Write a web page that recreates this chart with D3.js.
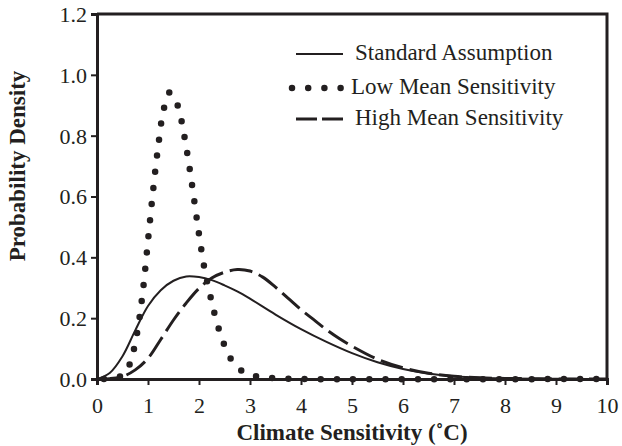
<!DOCTYPE html>
<html>
<head>
<meta charset="utf-8">
<script src="https://cdn.jsdelivr.net/npm/d3@7"></script>
<style>
  body { margin: 0; background: #fff; }
  svg { font-family: "Liberation Serif", "Times New Roman", serif; }
  .tick text { font-size: 22px; fill: #231f20; }
  .tick line, .domain { stroke: #231f20; }
</style>
</head>
<body>
<script>
const WIDTH = 622;
const HEIGHT = 446;
const LEFT = 97, RIGHT = 607, TOP = 14, BOTTOM = 379;

// Standard Assumption (solid)
var stdX = [0, 0.25, 0.5, 0.75, 1.0, 1.25, 1.5, 1.75, 2.0, 2.25, 2.5, 2.75, 3.0, 3.5, 4.0, 4.5, 5.0, 5.5, 6.0, 6.5, 7.0, 7.5, 8.0, 9.0, 10.0];
var stdY = [0, 0.02, 0.075, 0.16, 0.24, 0.292, 0.323, 0.337, 0.335, 0.325, 0.308, 0.288, 0.264, 0.212, 0.164, 0.122, 0.085, 0.055, 0.033, 0.018, 0.009, 0.004, 0.002, 0.0005, 0];

// Low Mean Sensitivity (dotted)
var lowX = [0, 0.3, 0.5, 0.6, 0.7, 0.8, 0.9, 1.0, 1.1, 1.2, 1.3, 1.42, 1.5, 1.6, 1.7, 1.8, 1.9, 2.0, 2.1, 2.2, 2.3, 2.4, 2.5, 2.6, 2.7, 2.85, 3.0, 3.3, 3.6, 4.0, 10.0];
var lowY = [0, 0.002, 0.012, 0.033, 0.082, 0.165, 0.29, 0.455, 0.62, 0.765, 0.88, 0.942, 0.93, 0.89, 0.81, 0.71, 0.595, 0.476, 0.37, 0.29, 0.218, 0.158, 0.11, 0.073, 0.048, 0.025, 0.013, 0.005, 0.002, 0, 0];
var lowPeak = 11; // index of the top dot

// High Mean Sensitivity (dashed)
var highX = [0, 0.25, 0.5, 0.75, 1.0, 1.25, 1.5, 1.75, 2.0, 2.25, 2.5, 2.75, 3.0, 3.25, 3.5, 3.75, 4.0, 4.25, 4.5, 4.75, 5.0, 5.5, 6.0, 6.5, 7.0, 7.5, 8.0, 9.0, 10.0];
var highY = [0, 0.001, 0.008, 0.03, 0.068, 0.13, 0.194, 0.25, 0.298, 0.332, 0.351, 0.36, 0.355, 0.335, 0.302, 0.265, 0.228, 0.195, 0.162, 0.133, 0.108, 0.065, 0.037, 0.019, 0.009, 0.004, 0.002, 0.0003, 0];

var xTicks = [0, 1, 2, 3, 4, 5, 6, 7, 8, 9, 10];
var yTicks = [0, 0.2, 0.4, 0.6, 0.8, 1.0, 1.2];
var seriesNames = ['Standard Assumption', 'Low Mean Sensitivity', 'High Mean Sensitivity'];

var zip = function (xs, ys) { return xs.map(function (x, i) { return {x: x, y: ys[i]}; }); };

var svg = d3.select('body').append('svg')
    .attr('width', WIDTH)
    .attr('height', HEIGHT);

var xScale = d3.scaleLinear().domain([0, 10]).range([LEFT, RIGHT]);
var yScale = d3.scaleLinear().domain([0, 1.2]).range([BOTTOM, TOP]);

// top and right frame
svg.append('path')
    .attr('d', 'M' + LEFT + ',' + TOP + 'H' + RIGHT + 'V' + BOTTOM)
    .attr('fill', 'none')
    .attr('stroke', '#231f20')
    .attr('stroke-width', 3);

var line = d3.line()
    .x(function (d) { return xScale(d.x); })
    .y(function (d) { return yScale(Math.max(0, d.y)); })
    .curve(d3.curveCatmullRom.alpha(0.5));

var DOT = 16.2;
var styles = [
    {width: 2, dash: null, cap: 'butt'},
    {width: 6.5, dash: '0,' + DOT, cap: 'round'},
    {width: 3, dash: '23,7', cap: 'butt'}
];
var series = [zip(stdX, stdY), zip(lowX, lowY), zip(highX, highY)];

// axes
var xAxis = d3.axisBottom(xScale).tickValues(xTicks).tickFormat(d3.format('d')).tickSize(6).tickPadding(12);
var yAxis = d3.axisLeft(yScale).tickValues(yTicks).tickFormat(d3.format('.1f')).tickSize(6).tickPadding(4);

var gx = svg.append('g')
    .attr('transform', 'translate(0,' + BOTTOM + ')')
    .call(xAxis);
var gy = svg.append('g')
    .attr('transform', 'translate(' + LEFT + ',0)')
    .call(yAxis);
[gx, gy].forEach(function (g) {
    g.select('.domain').attr('stroke-width', 3);
    g.selectAll('.tick line').attr('stroke-width', 2);
    g.attr('font-family', null).attr('font-size', null);
});
gy.selectAll('.tick text').attr('dy', '0.34em');

var paths = svg.selectAll('path.series')
    .data(series)
    .enter()
    .append('path')
    .classed('series', true)
    .attr('d', line)
    .attr('fill', 'none')
    .attr('stroke', '#231f20')
    .attr('stroke-width', function (d, i) { return styles[i].width; })
    .attr('stroke-dasharray', function (d, i) { return styles[i].dash; })
    .attr('stroke-linecap', function (d, i) { return styles[i].cap; });

// shift the dot pattern so one dot sits on the peak of the dotted curve
var probe = svg.append('path').attr('d', line(series[1].slice(0, lowPeak + 1)));
var peakLen = probe.node().getTotalLength();
probe.remove();
paths.filter(function (d, i) { return i === 1; })
    .attr('stroke-dashoffset', (DOT - (peakLen % DOT)) % DOT);

// axis titles
svg.append('text')
    .attr('x', (LEFT + RIGHT) / 2)
    .attr('y', 440)
    .attr('text-anchor', 'middle')
    .attr('font-weight', 'bold')
    .attr('font-size', 23)
    .attr('fill', '#231f20')
    .text('Climate Sensitivity (˚C)');

svg.append('text')
    .attr('transform', 'translate(25,166) rotate(-90)')
    .attr('text-anchor', 'middle')
    .attr('font-weight', 'bold')
    .attr('font-size', 23)
    .attr('fill', '#231f20')
    .text('Probability Density');

// legend
var legendY = [60, 94, 125];
var legend = svg.selectAll('g.legend')
    .data(seriesNames)
    .enter()
    .append('g')
    .classed('legend', true)
    .attr('transform', function (d, i) { return 'translate(0,' + legendY[i] + ')'; });

legend.append('line')
    .attr('x1', function (d, i) { return i === 1 ? 292 : 296; })
    .attr('x2', function (d, i) { return i === 1 ? 342 : 343; })
    .attr('y1', -6)
    .attr('y2', -6)
    .attr('stroke', '#231f20')
    .attr('stroke-width', function (d, i) { return styles[i].width; })
    .attr('stroke-dasharray', function (d, i) { return i === 2 ? '21,5' : styles[i].dash; })
    .attr('stroke-linecap', function (d, i) { return styles[i].cap; });

legend.append('text')
    .attr('x', function (d, i) { return i === 1 ? 351 : 355; })
    .attr('y', 0)
    .attr('font-size', 23)
    .attr('fill', '#231f20')
    .text(function (d) { return d; });
</script>
</body>
</html>
